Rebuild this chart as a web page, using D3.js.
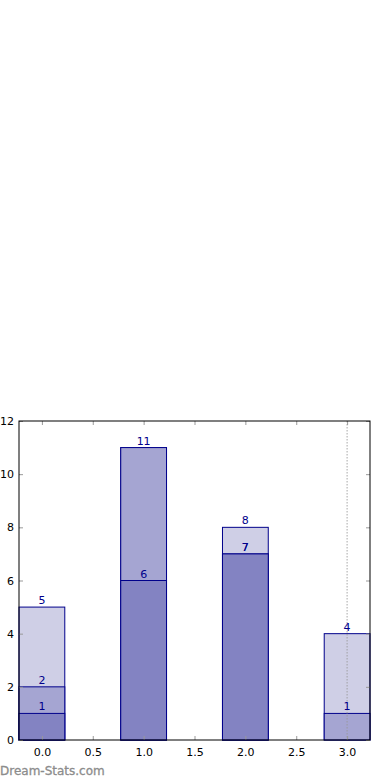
<!DOCTYPE html>
<html>
<head>
<meta charset="utf-8">
<script src="https://cdn.jsdelivr.net/npm/d3@7"></script>
<style>
  body { margin: 0; background: #fff; }
  svg text { font-family: 'DejaVu Sans', sans-serif; }
</style>
</head>
<body>
<div id="chart"></div>
<script>
// data
const positions = [0, 1, 2, 3]
const totalValues = [5, 11, 8, 4]
const secondValues = [2, 11, 7, 1]
const thirdValues = [1, 6, 7, 0]
const xTicks = [0, 0.5, 1, 1.5, 2, 2.5, 3]
const yTicks = [0, 2, 4, 6, 8, 10, 12]
const markerX = 3

const margin = { top: 421, right: 20, bottom: 40, left: 19 },
  width = 390 - margin.left - margin.right,
  height = 780 - margin.top - margin.bottom

const svg = d3.select('#chart')
  .append('svg')
  .attr('width', 390)
  .attr('height', 780)

const g = svg.append('g')
  .attr('transform', 'translate(' + margin.left + ',' + margin.top + ')')

const barWidth = 0.45
const x = d3.scaleLinear().domain([-0.225, 3.225]).range([0, width])
const y = d3.scaleLinear().domain([0, 12]).range([height, 0])

// bars, drawn lightest first
const layers = [
  { values: totalValues, fill: '#cfcfe6' },
  { values: secondValues, fill: '#a5a5d2' },
  { values: thirdValues, fill: '#8383c2' }
]

layers.forEach(layer => {
  g.selectAll(null)
    .data(positions.map((p, i) => ({ p: p, v: layer.values[i] })).filter(d => d.v > 0))
    .enter()
    .append('rect')
    .attr('x', d => x(d.p - barWidth / 2))
    .attr('y', d => y(d.v))
    .attr('width', d => x(d.p + barWidth / 2) - x(d.p - barWidth / 2))
    .attr('height', d => y(0) - y(d.v))
    .attr('fill', layer.fill)
    .attr('stroke', '#00008b')
    .attr('stroke-width', 1)
})

// dotted marker line
g.append('line')
  .attr('x1', x(markerX))
  .attr('x2', x(markerX))
  .attr('y1', 0)
  .attr('y2', height)
  .attr('stroke', '#999999')
  .attr('stroke-width', 1.2)
  .attr('stroke-dasharray', '1.5,1.5')
  .attr('opacity', 0.7)

// value labels (skip a label already drawn at the same height)
layers.forEach((layer, li) => {
  g.selectAll(null)
    .data(positions.map((p, i) => ({ p: p, v: layer.values[i], i: i }))
      .filter(d => d.v > 0 && !(li === 1 && d.v === totalValues[d.i])))
    .enter()
    .append('text')
    .attr('x', d => x(d.p))
    .attr('y', d => y(d.v) - 3)
    .attr('text-anchor', 'middle')
    .attr('font-size', 11)
    .attr('fill', '#00008b')
    .text(d => d.v)
})

// axes (ticks inside, matplotlib style)
const xAxis = g.append('g')
  .attr('transform', 'translate(0,' + height + ')')
  .call(d3.axisBottom(x).tickValues(xTicks).tickSizeInner(-4).tickSizeOuter(0).tickPadding(8).tickFormat(d3.format('.1f')))
const yAxis = g.append('g')
  .call(d3.axisLeft(y).tickValues(yTicks).tickSizeInner(-4).tickSizeOuter(0).tickPadding(5).tickFormat(d3.format('d')))
const xTop = g.append('g')
  .call(d3.axisTop(x).tickValues(xTicks).tickSizeInner(-4).tickSizeOuter(0).tickFormat(''))
const yRight = g.append('g')
  .attr('transform', 'translate(' + width + ',0)')
  .call(d3.axisRight(y).tickValues(yTicks).tickSizeInner(-4).tickSizeOuter(0).tickFormat(''))

;[xAxis, yAxis, xTop, yRight].forEach(a => {
  a.select('.domain').remove()
  a.selectAll('.tick line').attr('stroke', '#999999')
  a.selectAll('.tick text').attr('font-size', 11).attr('fill', '#000')
})

// frame
g.append('rect')
  .attr('x', 0)
  .attr('y', 0)
  .attr('width', width)
  .attr('height', height)
  .attr('fill', 'none')
  .attr('stroke', '#000')
  .attr('stroke-width', 1)

// watermark
svg.append('text')
  .attr('x', 0)
  .attr('y', 775)
  .attr('font-size', 12)
  .attr('fill', '#8c8c8c')
  .attr('stroke', '#8c8c8c')
  .attr('stroke-width', 0.3)
  .text('Dream-Stats.com')
</script>
</body>
</html>
